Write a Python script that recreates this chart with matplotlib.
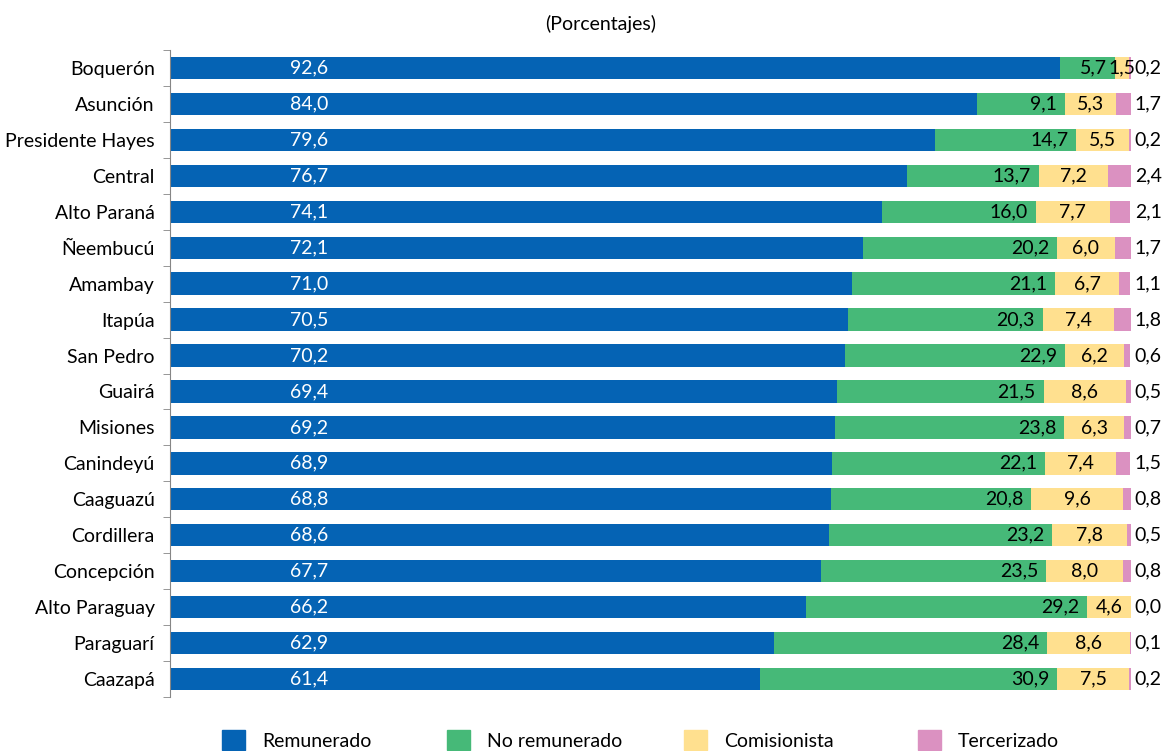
import matplotlib.pyplot as plt
import matplotlib.patches as mpatches
import numpy as np

REGIONS = ['Boquerón', 'Asunción', 'Presidente Hayes', 'Central', 'Alto Paraná',
           'Ñeembucú', 'Amambay', 'Itapúa', 'San Pedro', 'Guairá', 'Misiones',
           'Canindeyú', 'Caaguazú', 'Cordillera', 'Concepción', 'Alto Paraguay',
           'Paraguarí', 'Caazapá']
REMUNERADO = [92.6, 84.0, 79.6, 76.7, 74.1, 72.1, 71.0, 70.5, 70.2, 69.4, 69.2,
              68.9, 68.8, 68.6, 67.7, 66.2, 62.9, 61.4]
NO_REMUNERADO = [5.7, 9.1, 14.7, 13.7, 16.0, 20.2, 21.1, 20.3, 22.9, 21.5, 23.8,
                 22.1, 20.8, 23.2, 23.5, 29.2, 28.4, 30.9]
COMISIONISTA = [1.5, 5.3, 5.5, 7.2, 7.7, 6.0, 6.7, 7.4, 6.2, 8.6, 6.3,
                7.4, 9.6, 7.8, 8.0, 4.6, 8.6, 7.5]
TERCERIZADO = [0.2, 1.7, 0.2, 2.4, 2.1, 1.7, 1.1, 1.8, 0.6, 0.5, 0.7,
               1.5, 0.8, 0.5, 0.8, 0.0, 0.1, 0.2]
SERIES = ['Remunerado', 'No remunerado', 'Comisionista', 'Tercerizado']
COLORS = ['#0563B4', '#46B978', '#FFE08F', '#DB91C1']

plt.rcParams['font.family'] = ['Lato', 'DejaVu Sans']
FS = 14

def fmt(v):
    return f'{v:.1f}'.replace('.', ',')

fig = plt.figure(figsize=(11.64, 7.51), dpi=100)
ax = fig.add_axes([170/1164, 1 - 697/751, 961/1164, 647/751])

y = np.arange(len(REGIONS))
data = [np.array(REMUNERADO), np.array(NO_REMUNERADO),
        np.array(COMISIONISTA), np.array(TERCERIZADO)]
left = np.zeros(len(REGIONS))
for vals, name, col in zip(data, SERIES, COLORS):
    ax.barh(y, vals, left=left, height=0.62, color=col, label=name)
    left = left + vals

for i in range(len(REGIONS)):
    r, n, c, t = REMUNERADO[i], NO_REMUNERADO[i], COMISIONISTA[i], TERCERIZADO[i]
    ax.text(14.5, i, fmt(r), color='white', ha='center', va='center', fontsize=FS)
    ax.text(r + n - 0.8, i, fmt(n), color='black', ha='right', va='center', fontsize=FS)
    ax.text(r + n + c / 2, i, fmt(c), color='black', ha='center', va='center', fontsize=FS)
    ax.text(100.4, i, fmt(t), color='black', ha='left', va='center', fontsize=FS)

ax.set_xlim(0, 100)
ax.set_ylim(len(REGIONS) - 0.5, -0.5)
ax.set_yticks(y)
ax.set_yticklabels(REGIONS, fontsize=FS)
ax.set_yticks(np.arange(len(REGIONS) + 1) - 0.5, minor=True)
ax.tick_params(axis='y', which='major', length=0, pad=11)
ax.tick_params(axis='y', which='minor', length=5, color='#868686', direction='out')
ax.set_xticks([])
for s in ['top', 'right', 'bottom']:
    ax.spines[s].set_visible(False)
ax.spines['left'].set_color('#868686')

fig.text(601/1164, 1 - 24/751, '(Porcentajes)', ha='center', va='center', fontsize=FS)

# legend entries placed one by one, like the original's even slots
leg_x = [222, 447, 684, 918]
for xpx, name, col in zip(leg_x, SERIES, COLORS):
    handle = mpatches.Patch(color=col)
    leg = fig.legend([handle], [name], loc='center left',
                     bbox_to_anchor=(xpx / 1164, 1 - 740 / 751), frameon=False,
                     fontsize=FS, handlelength=1.2, handleheight=1.15,
                     handletextpad=0.85, borderpad=0, borderaxespad=0)

fig.savefig('out.png', dpi=100)
